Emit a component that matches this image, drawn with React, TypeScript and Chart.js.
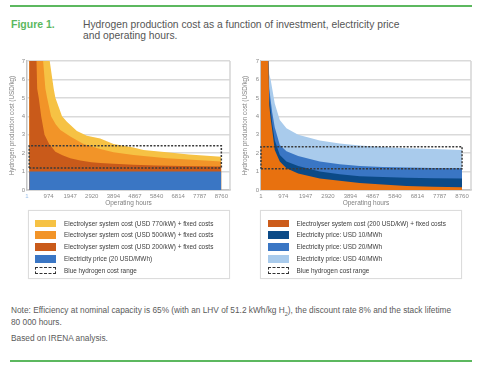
import React, { useEffect, useRef } from 'react';
import { Chart, registerables } from 'chart.js';

Chart.register(...registerables);

// ---------- shared axis data ----------
const tickHours = [1, 974, 1947, 2920, 3894, 4867, 5840, 6814, 7787, 8760];
const costTicks = [0, 1, 2, 3, 4, 5, 6, 7];

// ---------- left panel (investment) ----------
const leftElecHours = [100, 8760];
const leftElecCost = [1.0, 1.0];
const left200Hours = [100, 430, 460, 530, 640, 790, 1000, 1280, 1600, 1950, 2400, 2900, 3300, 3900, 4800, 5800, 7000, 8760];
const left200Cost = [12, 7.0, 5.5, 5.0, 4.0, 3.0, 2.5, 2.08, 1.88, 1.72, 1.6, 1.5, 1.46, 1.42, 1.37, 1.33, 1.3, 1.27];
const left500Hours = [100, 727, 830, 907, 1087, 1300, 1505, 1950, 2550, 3300, 3900, 4800, 6300, 8760];
const left500Cost = [12, 7.0, 5.5, 5.0, 4.0, 3.55, 3.26, 2.9, 2.5, 2.22, 2.05, 1.9, 1.72, 1.54];
const left770Hours = [100, 1025, 1205, 1280, 1580, 1800, 2250, 2700, 3300, 3900, 4800, 5250, 6300, 7300, 8760];
const left770Cost = [12, 7.0, 5.5, 5.0, 4.0, 3.7, 3.2, 2.95, 2.8, 2.5, 2.3, 2.17, 2.05, 1.93, 1.81];
const leftRangeHours = [100, 8760];
const leftRangeCost = [1.2, 2.4];

// ---------- right panel (electricity price) ----------
const rightHours = [1, 320, 360, 420, 490, 600, 820, 1110, 1620, 2560, 3430, 4300, 5300, 6340, 7500, 8760];
const rightCapex200 = [12, 7.2, 4.6, 3.9, 3.26, 2.17, 1.54, 1.18, 0.9, 0.63, 0.5, 0.38, 0.3, 0.22, 0.18, 0.15];
const rightElec10 = [12, 7.2, 5.1, 4.4, 3.6, 2.7, 1.9, 1.55, 1.3, 1.0, 0.85, 0.75, 0.7, 0.66, 0.64, 0.63];
const rightElec20 = [12, 7.2, 5.5, 4.9, 4.2, 3.4, 2.44, 2.1, 1.85, 1.54, 1.4, 1.3, 1.25, 1.22, 1.2, 1.18];
const rightElec40 = [12, 7.2, 6.3, 6.0, 5.5, 4.7, 3.8, 3.35, 3.0, 2.68, 2.53, 2.42, 2.33, 2.27, 2.22, 2.17];
const rightRangeHours = [1, 8760];
const rightRangeCost = [1.15, 2.35];

// ---------- labels ----------
const leftLegend = [
  { color: '#f6c244', label: 'Electrolyser system cost (USD 770/kW) + fixed costs' },
  { color: '#f29428', label: 'Electrolyser system cost (USD 500/kW) + fixed costs' },
  { color: '#c95a1a', label: 'Electrolyser system cost (USD 200/kW) + fixed costs' },
  { color: '#3a76c4', label: 'Electricity price (20 USD/MWh)' },
  { color: null, label: 'Blue hydrogen cost range' },
];
const rightLegend = [
  { color: '#cc5c1b', label: 'Electrolyser system cost (200 USD/kW) + fixed costs' },
  { color: '#0b4a87', label: 'Electricity price: USD 10/MWh' },
  { color: '#3a76c4', label: 'Electricity price: USD 20/MWh' },
  { color: '#a9cbec', label: 'Electricity price: USD 40/MWh' },
  { color: null, label: 'Blue hydrogen cost range' },
];

const FONT = '"Liberation Sans", Arial, sans-serif';

function pts(hours: number[], vals: number[]) {
  return hours.map((h, i) => ({ x: h, y: vals[i] }));
}
function rect(hours: number[], range: number[]) {
  const [h0, h1] = hours;
  const [lo, hi] = range;
  return [
    { x: h0, y: lo },
    { x: h1, y: lo },
    { x: h1, y: hi },
    { x: h0, y: hi },
    { x: h0, y: lo },
  ];
}

function area(data: any[], color: string) {
  return {
    data,
    backgroundColor: color,
    borderColor: color,
    borderWidth: 0,
    fill: 'origin',
    pointRadius: 0,
    tension: 0,
  };
}
function dashed(data: any[]) {
  return {
    data,
    borderColor: '#3a3a3a',
    borderWidth: 1.5,
    borderDash: [2, 1.5],
    fill: false,
    pointRadius: 0,
    tension: 0,
    clip: 4,
  };
}

const rightBorder = {
  id: 'rightBorder',
  afterDraw(chart: any) {
    const { ctx, chartArea } = chart;
    ctx.save();
    ctx.strokeStyle = '#d4d4d4';
    ctx.lineWidth = 1.5;
    ctx.beginPath();
    ctx.moveTo(chartArea.right, chartArea.top);
    ctx.lineTo(chartArea.right, chartArea.bottom);
    ctx.stroke();
    ctx.restore();
  },
};

function makeConfig(datasets: any[], yWidth: number, yTitlePad: number, rightPad: number, firstTickColor: string) {
  return {
    type: 'line',
    data: { datasets },
    options: {
      animation: false,
      responsive: false,
      maintainAspectRatio: false,
      events: [],
      layout: { padding: { top: 6, right: rightPad, left: 0, bottom: 0 } },
      plugins: { legend: { display: false }, tooltip: { enabled: false } },
      scales: {
        x: {
          type: 'linear',
          min: 1,
          max: 9150,
          afterBuildTicks: (s: any) => {
            s.ticks = tickHours.map((v) => ({ value: v }));
          },
          afterFit: (s: any) => {
            s.height = 25;
          },
          grid: { display: false, drawTicks: false },
          border: { display: true, color: '#c4c4c4', width: 1.5 },
          ticks: {
            font: { size: 6, family: FONT },
            color: (c: any) => (c.index === 0 ? firstTickColor : '#8a8a8a'),
            padding: 3,
            maxRotation: 0,
            autoSkip: false,
            callback: (v: any) => String(v),
          },
          title: {
            display: true,
            text: 'Operating hours',
            font: { size: 6.5, family: FONT },
            color: '#808080',
            padding: { top: 0, bottom: 8 },
          },
        },
        y: {
          min: 0,
          max: 7,
          afterBuildTicks: (s: any) => {
            s.ticks = costTicks.map((v) => ({ value: v }));
          },
          afterFit: (s: any) => {
            s.width = yWidth;
          },
          grid: { color: '#dadada', lineWidth: 1.5, drawTicks: false },
          border: { display: true, color: '#c4c4c4', width: 1.5 },
          ticks: {
            font: { size: 6, family: FONT },
            color: '#8a8a8a',
            padding: 2,
            callback: (v: any) => String(v),
          },
          title: {
            display: true,
            text: 'Hydrogen production cost (USD/kg)',
            font: { size: 6.3, family: FONT },
            color: '#808080',
            padding: { top: yTitlePad, bottom: 0 },
          },
        },
      },
    },
    plugins: [rightBorder],
  };
}

function ChartCanvas({ config, left, top, width, height }: any) {
  const ref = useRef<HTMLCanvasElement | null>(null);
  useEffect(() => {
    if (!ref.current) return;
    const chart = new Chart(ref.current, config);
    return () => chart.destroy();
  }, []);
  return (
    <canvas
      ref={ref}
      width={width}
      height={height}
      style={{ position: 'absolute', left, top, width, height, display: 'block' }}
    />
  );
}

function Legend({ items, left, top, width, height, swatchLeft, textLeft }: any) {
  return (
    <div
      style={{
        position: 'absolute',
        left,
        top,
        width,
        height,
        boxSizing: 'border-box',
        border: '1px solid #dcdcdc',
        background: '#fff',
        boxShadow: '0 0 1px rgba(0,0,0,0.08)',
      }}
    >
      {items.map((it: any, i: number) => (
        <div
          key={i}
          style={{
            position: 'absolute',
            left: 0,
            top: 6.5 + i * 11.8,
            height: 11.8,
            width: '100%',
            display: 'flex',
            alignItems: 'center',
          }}
        >
          <div
            style={{
              position: 'absolute',
              left: swatchLeft,
              width: 21,
              height: 7.5,
              boxSizing: 'border-box',
              background: it.color || 'transparent',
              border: it.color ? 'none' : '1.3px dashed #333',
            }}
          />
          <div
            style={{
              position: 'absolute',
              left: textLeft,
              fontFamily: FONT,
              fontSize: 6.4,
              color: '#3c3c3c',
              whiteSpace: 'nowrap',
              lineHeight: '11.8px',
            }}
          >
            {it.label}
          </div>
        </div>
      ))}
    </div>
  );
}

export default function App() {
  const leftDatasets = [
    dashed(rect(leftRangeHours, leftRangeCost)),
    area(pts(leftElecHours, leftElecCost), '#3a76c4'),
    area(pts(left200Hours, left200Cost), '#c95a1a'),
    area(pts(left500Hours, left500Cost), '#f29428'),
    area(pts(left770Hours, left770Cost), '#f6c244'),
  ];
  const rightDatasets = [
    dashed(rect(rightRangeHours, rightRangeCost)),
    area(pts(rightHours, rightCapex200), '#e8710f'),
    area(pts(rightHours, rightElec10), '#0b4a87'),
    area(pts(rightHours, rightElec20), '#3a76c4'),
    area(pts(rightHours, rightElec40), '#a9cbec'),
  ];
  const leftConfig = makeConfig(leftDatasets, 27, 8, 10, '#9cc0ea');
  const rightConfig = makeConfig(rightDatasets, 21, 1.2, 9, '#8a8a8a');

  return (
    <div
      style={{
        position: 'fixed',
        left: 0,
        top: 0,
        width: 480,
        height: 366,
        background: '#fff',
        overflow: 'hidden',
        fontFamily: FONT,
      }}
    >
      <div style={{ position: 'absolute', left: 10, top: 5, width: 462, height: 2, background: '#5cb85f' }} />
      <div
        style={{
          position: 'absolute',
          left: 11,
          top: 18.6,
          fontSize: 10.5,
          lineHeight: '11.5px',
          fontWeight: 'bold',
          color: '#5cb85f',
        }}
      >
        Figure 1.
      </div>
      <div
        style={{
          position: 'absolute',
          left: 83,
          top: 18.6,
          width: 390,
          fontSize: 10.3,
          lineHeight: '11.5px',
          color: '#555',
          whiteSpace: 'nowrap',
        }}
      >
        Hydrogen production cost as a function of investment, electricity price
        <br />
        and operating hours.
      </div>

      <ChartCanvas config={leftConfig} left={0} top={55} width={240} height={160} />
      <ChartCanvas config={rightConfig} left={240} top={55} width={240} height={160} />

      <Legend items={leftLegend} left={28} top={210} width={202} height={69} swatchLeft={6} textLeft={35} />
      <Legend items={rightLegend} left={260} top={210} width={202} height={69} swatchLeft={6.5} textLeft={35.5} />

      <div
        style={{
          position: 'absolute',
          left: 11,
          top: 304.8,
          width: 470,
          fontSize: 8.3,
          lineHeight: '11.9px',
          color: '#5a5a5a',
          whiteSpace: 'nowrap',
        }}
      >
        Note: Efficiency at nominal capacity is 65% (with an LHV of 51.2 kWh/kg H<sub style={{ fontSize: 5.5, lineHeight: 0 }}>2</sub>), the discount rate 8% and the stack lifetime
        <br />
        80 000 hours.
      </div>
      <div
        style={{
          position: 'absolute',
          left: 11,
          top: 333.3,
          fontSize: 8.3,
          lineHeight: '11.9px',
          color: '#5a5a5a',
        }}
      >
        Based on IRENA analysis.
      </div>
      <div style={{ position: 'absolute', left: 10, top: 360, width: 462, height: 2, background: '#5cb85f' }} />
    </div>
  );
}
